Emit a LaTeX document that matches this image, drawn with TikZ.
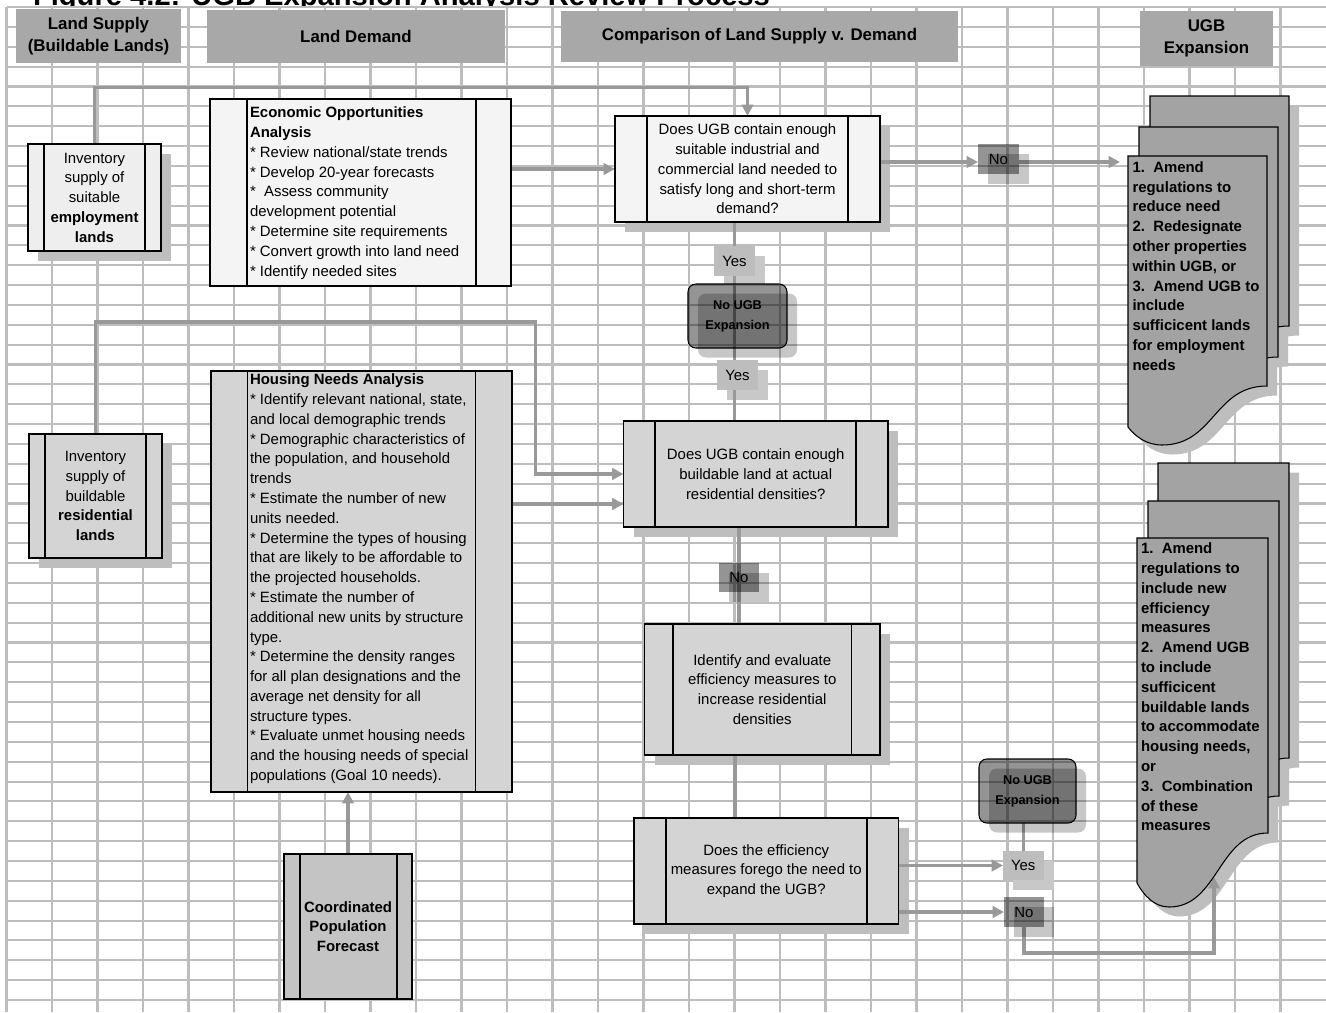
\documentclass[tikz,border=0pt]{standalone}
\usepackage{fontspec}
\setmainfont{Liberation Sans}
\usetikzlibrary{arrows.meta,calc}
\definecolor{gridc}{HTML}{BDBDBD}
\definecolor{hdrc}{HTML}{A8A8A8}
\definecolor{connc}{HTML}{999999}
\definecolor{shadc}{HTML}{BEBEBE}
\definecolor{paleF}{HTML}{F4F4F4}
\definecolor{empF}{HTML}{EEEEEE}
\definecolor{midF}{HTML}{D4D4D4}
\definecolor{coordF}{HTML}{C4C4C4}
\definecolor{docF}{HTML}{A3A3A3}
\definecolor{yesF}{HTML}{BDBDBD}
\definecolor{yesS}{HTML}{C8C8C8}
\pgfdeclarelayer{gridlayer}
\pgfdeclarelayer{shadlayer}
\pgfdeclarelayer{connlayer}
\pgfsetlayers{gridlayer,shadlayer,connlayer,main}
% name, x1, y1, x2, y2, style, text
\newcommand\bx[7]{\node[#6, minimum width={(#4-#2)*0.02cm}, minimum height={(#5-#3)*0.02cm}] (#1) at ({(#2+#4)/2},{(#3+#5)/2}) {#7};}
% inner vertical lines: xa, xb, y1, y2
\newcommand\inl[4]{\draw[bline] (#1,#3) -- (#1,#4) (#2,#3) -- (#2,#4);}
% shadow rectangle: [style] x1 y1 x2 y2
\newcommand\shd[5][fill=shadc]{\fill[#1] ({#2+10},{#3+9.5}) rectangle ({#4+10},{#5+9.5});}
% document sheet path: x, y, w, h (right side), drop, rise
\newcommand\docp[6]{({#1},{#2}) -- ({#1+#3},{#2}) -- ({#1+#3},{#2+#4}) .. controls ({#1+0.62*#3},{#2+#4}) and ({#1+0.62*#3},{#2+#4+#5}) .. ({#1+0.245*#3},{#2+#4+#5}) .. controls ({#1+0.13*#3},{#2+#4+#5}) and ({#1+0.05*#3},{#2+#4+#5-0.5*#6}) .. ({#1},{#2+#4+#5-#6}) -- cycle}
\begin{document}
\begin{tikzpicture}[x=0.02cm,y=-0.02cm,
  gridline/.style={draw=gridc,line width=1.2pt},
  conn/.style={draw=connc,line width=1.8pt},
  arr/.style={conn,-{Triangle[length=6.5pt,width=6.5pt]}},
  bline/.style={draw=black,line width=0.6pt},
  pbox/.style={draw=black,line width=0.6pt,inner sep=0pt,outer sep=0pt,align=center,font=\fontsize{8.5}{11.26}\selectfont},
  hdr/.style={fill=hdrc,inner sep=0pt,outer sep=0pt,align=center,font=\bfseries\fontsize{9.6}{12.75}\selectfont},
  yesl/.style={fill=yesF,inner sep=0pt,outer sep=0pt,font=\fontsize{8.5}{11.26}\selectfont},
  nol/.style={fill=black,fill opacity=0.42,text opacity=1,inner sep=0pt,outer sep=0pt,font=\fontsize{8.5}{11.26}\selectfont},
  ugbl/.style={draw=black,line width=0.6pt,rounded corners=4.5pt,fill=black,fill opacity=0.42,text opacity=1,draw opacity=1,align=center,inner sep=0pt,outer sep=0pt,font=\bfseries\fontsize{7.26}{11.3}\selectfont},
  tshad/.style={fill=black,fill opacity=0.22},
  ltxt/.style={inner sep=0pt,outer sep=0pt,align=left,anchor=north west,font=\fontsize{8.5}{11.26}\selectfont},
  dtxt/.style={inner sep=0pt,outer sep=0pt,align=left,anchor=north west,font=\bfseries\fontsize{8.5}{11.26}\selectfont},
  docsheet/.style={draw=black,line width=0.6pt,fill=docF},
  ttl/.style={inner sep=0pt,outer sep=0pt,anchor=base west,font=\bfseries\fontsize{16.6}{20}\selectfont}
]
\useasboundingbox (0,0) rectangle (1326,1012);

% ---------- grid sheet ----------
\begin{pgfonlayer}{gridlayer}
\fill[white] (0,0) rectangle (1326,1012);
\node[ttl] (title) at (33,5) {Figure 4.2: UGB Expansion Analysis Review Process};
\fill[white] (0,7) rectangle (1326,1012);
\foreach \k in {0,...,28} \draw[gridline] ({6.5+45.5*\k},7) -- ({6.5+45.5*\k},1012);
\foreach \k in {0,...,50} \draw[gridline] (6.5,{7+19.86*\k}) -- (1326,{7+19.86*\k});
\end{pgfonlayer}

% ---------- shadows ----------
\begin{pgfonlayer}{shadlayer}
\shd{28}{144}{161}{251}
\shd{29}{434}{162}{558}
\shd{615}{116}{880}{222}
\shd{623.5}{421}{888}{527}
\shd{644.5}{624}{880}{755}
\shd{634}{818}{898.5}{924}
\shd[fill=yesS]{714}{246}{755}{276}
\shd[fill=yesS]{717}{360}{758}{390}
\shd[fill=yesS]{1003}{851}{1043.5}{880}
\fill[shadc] \docp{1160}{105.5}{139}{230}{59}{18};
\fill[shadc] \docp{1149}{136.5}{139}{230}{59}{18};
\fill[shadc] \docp{1138}{165.5}{139}{230}{59}{18};
\fill[shadc] \docp{1168}{472.5}{131}{295}{74}{24};
\fill[shadc] \docp{1158}{510.5}{131}{295}{74}{24};
\fill[shadc] \docp{1147}{547.5}{131}{295}{74}{24};
\end{pgfonlayer}

% ---------- headers ----------
\bx{hLS}{16}{9}{181}{63}{hdr}{Land Supply\\(Buildable Lands)}
\bx{hLD}{207}{10}{505}{63}{hdr}{Land Demand}
\bx{hCMP}{561}{11}{958}{62}{hdr}{Comparison of Land Supply v. Demand}
\bx{hUGB}{1140}{11}{1273}{66}{hdr}{UGB\\Expansion}

% ---------- process boxes ----------
\bx{emp}{28}{144}{161}{251}{pbox,fill=empF}{Inventory\\supply of\\suitable\\\textbf{employment}\\\textbf{lands}}
\inl{44}{145}{144}{251}
\bx{eoa}{210}{99}{511}{286}{pbox,fill=paleF}{}
\inl{247}{476}{99}{286}
\node[ltxt] (eoaT) at (250,107) {\textbf{Economic Opportunities}\\\textbf{Analysis}\\{*} Review national/state trends\\{*} Develop 20-year forecasts\\{*}\ \ Assess community\\development potential\\{*} Determine site requirements\\{*} Convert growth into land need\\{*} Identify needed sites};
\bx{res}{29}{434}{162}{558}{pbox,fill=midF}{Inventory\\supply of\\buildable\\\textbf{residential}\\\textbf{lands}}
\inl{45}{146}{434}{558}
\bx{hous}{211}{371}{512}{792}{pbox,fill=midF}{}
\inl{247.5}{475.5}{371}{792}
\node[ltxt] (housT) at (250,374) {\textbf{Housing Needs Analysis}\\{*} Identify relevant national, state,\\and local demographic trends\\{*} Demographic characteristics of\\the population, and household\\trends\\{*} Estimate the number of new\\units needed.\\{*} Determine the types of housing\\that are likely to be affordable to\\the projected households.\\{*} Estimate the number of\\additional new units by structure\\type.\\{*} Determine the density ranges\\for all plan designations and the\\average net density for all\\structure types.\\{*} Evaluate unmet housing needs\\and the housing needs of special\\populations (Goal 10 needs).};
\bx{coord}{284}{854}{412}{999}{pbox,fill=coordF}{\textbf{Coordinated}\\\textbf{Population}\\\textbf{Forecast}}
\inl{300}{397}{854}{999}
\bx{q1}{615}{116}{880}{222}{pbox,fill=paleF}{Does UGB contain enough\\suitable industrial and\\commercial land needed to\\satisfy long and short-term\\demand?}
\inl{647}{848}{116}{222}
\bx{q2}{623.5}{421}{888}{527}{pbox,fill=midF}{Does UGB contain enough\\buildable land at actual\\residential densities?}
\inl{655}{856}{421}{527}
\bx{ident}{644.5}{624}{880}{755}{pbox,fill=midF}{Identify and evaluate\\efficiency measures to\\increase residential\\densities}
\inl{673}{851.5}{624}{755}
\bx{eff}{634}{818}{898.5}{924}{pbox,fill=midF}{Does the efficiency\\measures forego the need to\\expand the UGB?}
\inl{666}{867}{818}{924}

% ---------- decision labels ----------
\shd[tshad]{978}{144}{1019}{174}
\bx{no1}{978}{144}{1019}{174}{nol}{No}
\bx{yes1}{714}{246}{755}{276}{yesl}{Yes}
\shd[tshad,rounded corners=4.5pt]{688}{284}{787}{348}
\bx{ugb1}{688}{284}{787}{348}{ugbl}{No UGB\\Expansion}
\bx{yes2}{717}{360}{758}{390}{yesl}{Yes}
\shd[tshad]{719}{563}{759}{592}
\bx{no2}{719}{563}{759}{592}{nol}{No}
\shd[tshad,rounded corners=4.5pt]{979}{759}{1076}{823}
\bx{ugb2}{979}{759}{1076}{823}{ugbl}{No UGB\\Expansion}
\bx{yes3}{1003}{851}{1043.5}{880}{yesl}{Yes}
\shd[tshad]{1004}{897}{1044}{927}
\bx{no3}{1004}{897}{1044}{927}{nol}{No}

% ---------- outcome documents ----------
\path[docsheet] \docp{1150}{96}{139}{230}{59}{18};
\path[docsheet] \docp{1139}{127}{139}{230}{59}{18};
\path[docsheet] \docp{1128}{156}{139}{230}{59}{18};
\node[dtxt] (doc1T) at (1132.5,161.5) {1.\ \ Amend\\regulations to\\reduce need\\2.\ \ Redesignate\\other properties\\within UGB, or\\3.\ \ Amend UGB to\\include\\sufficicent lands\\for employment\\needs};
\path[docsheet] \docp{1158}{463}{131}{295}{74}{24};
\path[docsheet] \docp{1148}{501}{131}{295}{74}{24};
\path[docsheet] \docp{1137}{538}{131}{295}{74}{24};
\node[dtxt] (doc2T) at (1141,543) {1.\ \ Amend\\regulations to\\include new\\efficiency\\measures\\2.\ \ Amend UGB\\to include\\sufficicent\\buildable lands\\to accommodate\\housing needs,\\or\\3.\ \ Combination\\of these\\measures};

% ---------- connectors ----------
\begin{pgfonlayer}{connlayer}
\draw[arr] (emp.north) -- ++(0,-56.5) -| (q1.north);
\draw[arr] (eoa.east |- q1.west) -- (q1.west);
\coordinate (n1a) at ($(no1.west)+(0,3)$);
\draw[arr] (q1.east |- n1a) -- (n1a);
\coordinate (d1in) at (1120,162);
\draw[arr] (no1.east |- d1in) -- (d1in);
\draw[conn] (yes1.center |- q1.south) -- (yes1.center |- q2.north);
\coordinate (rc) at (535.7,322);
\draw[arr] (res.north) |- (rc) |- (q2.west);
\coordinate (hq) at ($(q2.west)+(0,30)$);
\draw[arr] (hous.east |- hq) -- (hq);
\draw[conn] (no2.center |- q2.south) -- (no2.center |- ident.north);
\draw[conn] ($(no2.center |- ident.south)+(-4,0)$) -- ($(no2.center |- eff.north)+(-4,0)$);
\draw[arr] (eff.east |- yes3.west) -- (yes3.west);
\draw[arr] (eff.east |- no3.west) -- (no3.west);
\draw[conn] (yes3.north |- ugb2.south) -- (yes3.north);
\coordinate (d2in) at (1214,877);
\draw[arr] (no3.south) -- ++(0,26) -| (d2in);
\draw[arr] (coord.north) -- (coord.north |- hous.south);
\end{pgfonlayer}
\end{tikzpicture}
\end{document}
